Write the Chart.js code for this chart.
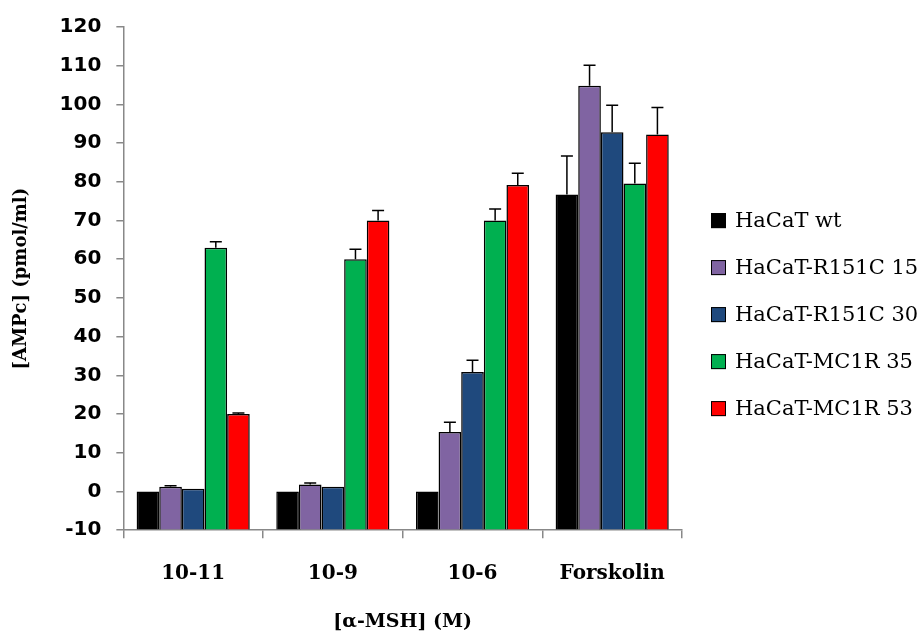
<!DOCTYPE html>
<html>
<head>
<meta charset="utf-8">
<script src="https://cdn.jsdelivr.net/npm/chart.js@4/dist/chart.umd.min.js"></script>
<style>
html,body{margin:0;padding:0;background:#fff;}
#wrap{width:923px;height:634px;position:relative;}
</style>
</head>
<body>
<div id="wrap"><canvas id="c" width="923" height="634"></canvas></div>
<script>
const categories = ["10-11", "10-9", "10-6", "Forskolin"];
const seriesNames = ["HaCaT wt", "HaCaT-R151C 15", "HaCaT-R151C 30", "HaCaT-MC1R 35", "HaCaT-MC1R 53"];
const wtValues   = [0, 0, 0, 76.7];
const r15Values  = [1.2, 1.8, 15.4, 104.8];
const r30Values  = [0.7, 1.2, 30.9, 92.8];
const mc35Values = [63, 60, 70, 79.6];
const mc53Values = [20, 70, 79.2, 92.2];
const wtErr   = [0, 0, 0, 10];
const r15Err  = [0.3, 0.4, 2.5, 5.3];
const r30Err  = [0, 0, 3, 7];
const mc35Err = [1.5, 2.6, 3, 5.2];
const mc53Err = [0.3, 2.6, 3, 7];
const yTicks = [-10, 0, 10, 20, 30, 40, 50, 60, 70, 80, 90, 100, 110, 120];

const colors = ["#000000", "#8064a2", "#1f497d", "#00b050", "#ff0000"];
const valuesList = [wtValues, r15Values, r30Values, mc35Values, mc53Values];
const errList = [wtErr, r15Err, r30Err, mc35Err, mc53Err];

const errorBars = {
  id: 'errorBars',
  afterDatasetsDraw(chart) {
    const ctx = chart.ctx;
    const y = chart.scales.y;
    ctx.save();
    ctx.strokeStyle = '#000';
    ctx.lineWidth = 1.5;
    chart.data.datasets.forEach((ds, di) => {
      const meta = chart.getDatasetMeta(di);
      meta.data.forEach((bar, i) => {
        const e = ds.errors[i];
        if (!e) return;
        const top = y.getPixelForValue(ds.data[i]);
        const end = y.getPixelForValue(ds.data[i] + e);
        ctx.beginPath();
        ctx.moveTo(bar.x, top);
        ctx.lineTo(bar.x, end);
        ctx.moveTo(bar.x - 6, end);
        ctx.lineTo(bar.x + 6, end);
        ctx.stroke();
      });
    });
    ctx.restore();
  }
};

// Legend drawn beside the plot, from the chart's own datasets
const sideLegend = {
  id: 'sideLegend',
  afterDraw(chart, args, opts) {
    const ctx = chart.ctx;
    const area = chart.chartArea;
    const n = chart.data.datasets.length;
    const midY = (area.top + area.bottom) / 2 + opts.shiftY;
    ctx.save();
    ctx.font = opts.font;
    ctx.textBaseline = 'middle';
    ctx.textAlign = 'left';
    chart.data.datasets.forEach((ds, i) => {
      const cy = midY + (i - (n - 1) / 2) * opts.spacing;
      const bx = area.right + opts.gap;
      ctx.fillStyle = ds.backgroundColor;
      ctx.fillRect(bx, cy - opts.box / 2, opts.box, opts.box);
      ctx.strokeStyle = '#000';
      ctx.lineWidth = 1;
      ctx.strokeRect(bx + 0.5, cy - opts.box / 2 + 0.5, opts.box - 1, opts.box - 1);
      ctx.fillStyle = '#000';
      ctx.fillText(ds.label, bx + opts.box + opts.textGap, cy + 1);
    });
    ctx.restore();
  }
};

new Chart(document.getElementById('c'), {
  type: 'bar',
  data: {
    labels: categories,
    datasets: seriesNames.map((n, i) => ({
      label: n,
      data: valuesList[i],
      errors: errList[i],
      backgroundColor: colors[i],
      borderColor: '#000',
      borderWidth: 1.5,
      base: -10,
      categoryPercentage: 0.81,
      barPercentage: 1.0
    }))
  },
  options: {
    responsive: false,
    animation: false,
    devicePixelRatio: 1,
    layout: { padding: { left: 7, top: 21, right: 241, bottom: 1 } },
    plugins: {
      tooltip: { enabled: false },
      legend: { display: false },
      sideLegend: { font: "21px 'DejaVu Serif'", box: 15, gap: 29, textGap: 9, spacing: 47, shiftY: 36 }
    },
    scales: {
      x: {
        offset: true,
        grid: { offset: true, drawOnChartArea: false, drawTicks: true, tickLength: 8, color: '#888', lineWidth: 1.5 },
        border: { color: '#888', width: 1.5 },
        ticks: { color: '#000', padding: 24, font: { family: "'DejaVu Serif'", size: 20, weight: 'bold' } },
        title: { display: true, text: '[α-MSH] (M)', color: '#000', padding: { top: 0, bottom: 0 }, font: { family: "'DejaVu Serif'", size: 19, weight: 'bold' } }
      },
      y: {
        min: -10,
        max: 120,
        afterBuildTicks(scale) { scale.ticks = yTicks.map(v => ({ value: v })); },
        grid: { drawOnChartArea: false, drawTicks: true, tickLength: 7, color: '#888', lineWidth: 1.5 },
        border: { color: '#888', width: 1.5 },
        ticks: { color: '#000', padding: 15, font: { family: "'DejaVu Sans'", size: 20, weight: 'bold' } },
        title: { display: true, text: '[AMPc] (pmol/ml)', color: '#000', padding: { top: 4, bottom: 12 }, font: { family: "'DejaVu Serif'", size: 18, weight: 'bold' } }
      }
    }
  },
  plugins: [errorBars, sideLegend]
});
</script>
</body>
</html>
